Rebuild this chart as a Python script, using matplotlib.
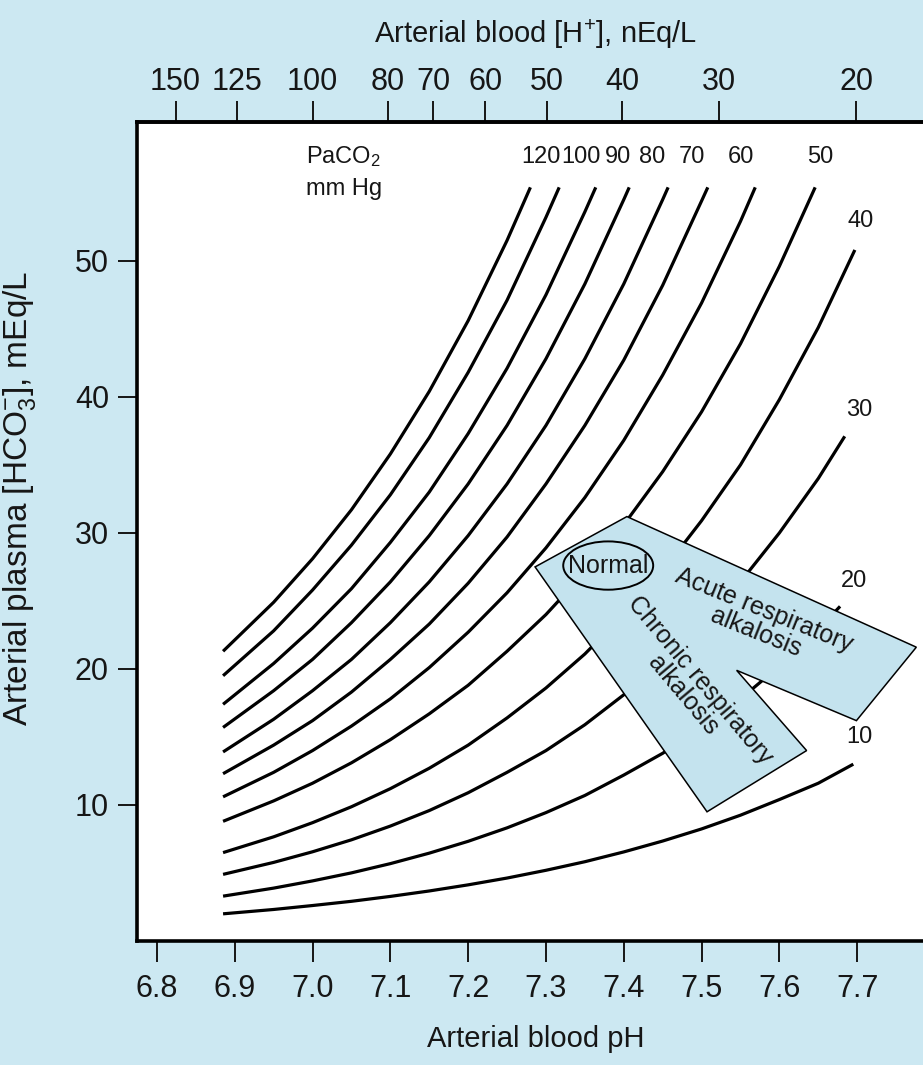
import numpy as np
import matplotlib
matplotlib.use("Agg")
import matplotlib.pyplot as plt
from matplotlib import font_manager
from matplotlib.patches import Polygon, Ellipse

# ================= DATA =================

ph_grid = [6.885, 6.95, 7.00, 7.05, 7.10, 7.15, 7.20, 7.25,
           7.30, 7.35, 7.40, 7.45, 7.50, 7.55, 7.60, 7.65]

paco2_levels = [120, 110, 100, 90, 80, 70, 60, 50, 40, 30, 20, 10]

# HCO3- (mEq/L) of each isobar at the pH grid points above
hco3_curves = [
    [21.3, 24.9, 28.1, 31.7, 35.8, 40.4, 45.6, 51.5],
    [19.5, 22.8, 25.8, 29.1, 32.8, 37.0, 41.8, 47.1, 53.2],
    [17.4, 20.4, 23.0, 25.9, 29.3, 33.0, 37.3, 42.1, 47.5, 53.6],
    [15.7, 18.4, 20.7, 23.4, 26.4, 29.8, 33.6, 37.9, 42.8, 48.3, 54.5],
    [13.9, 16.3, 18.4, 20.7, 23.4, 26.4, 29.8, 33.6, 37.9, 42.8, 48.3, 54.5],
    [12.3, 14.4, 16.2, 18.3, 20.7, 23.3, 26.3, 29.7, 33.6, 37.9, 42.7, 48.2, 54.4],
    [10.6, 12.4, 14.0, 15.8, 17.8, 20.1, 22.7, 25.6, 28.9, 32.6, 36.8, 41.6, 46.9, 52.9],
    [8.8, 10.3, 11.6, 13.1, 14.8, 16.7, 18.8, 21.3, 24.0, 27.1, 30.6, 34.5, 38.9, 43.9, 49.6],
    [6.5, 7.66, 8.70, 9.87, 11.2, 12.7, 14.4, 16.4, 18.6, 21.1, 24.0, 27.2, 30.9, 35.0, 39.8, 45.1],
    [4.9, 5.78, 6.56, 7.44, 8.45, 9.59, 10.9, 12.4, 14.0, 15.9, 18.1, 20.5, 23.3, 26.4, 30.0, 34.0],
    [3.3, 3.89, 4.42, 5.01, 5.69, 6.46, 7.33, 8.32, 9.44, 10.7, 12.2, 13.8, 15.7, 17.8, 20.2, 22.9],
    [2.0, 2.32, 2.61, 2.92, 3.28, 3.68, 4.13, 4.63, 5.20, 5.83, 6.55, 7.35, 8.24, 9.25, 10.4, 11.6],
]

# last point of each isobar
ph_end = [7.280, 7.317, 7.364, 7.407, 7.457, 7.508, 7.569, 7.646,
          7.697, 7.684, 7.678, 7.695]
hco3_end = [55.4, 55.4, 55.4, 55.4, 55.4, 55.4, 55.4, 55.4,
            50.8, 37.1, 24.6, 13.0]

# isobar labels (110 has none in the original)
top_labels = ["120", "100", "90", "80", "70", "60", "50"]
side_labels = ["40", "30", "20", "10"]

ph_ticks = [6.8, 6.9, 7.0, 7.1, 7.2, 7.3, 7.4, 7.5, 7.6, 7.7]
hco3_ticks = [10, 20, 30, 40, 50]
h_ticks = [150, 125, 100, 80, 70, 60, 50, 40, 30, 20]

# respiratory alkalosis band (pH, HCO3)
band = [(7.286, 27.5), (7.404, 31.2), (7.776, 21.6), (7.699, 16.2),
        (7.545, 19.9), (7.635, 14.0), (7.507, 9.5)]
normal_point = (7.380, 27.6)

# ================= STYLE =================

bg = "#cce8f2"
band_color = "#c4e3ee"
ink = "#161616"

plt.rcParams["font.family"] = ["Liberation Sans", "DejaVu Sans"]
plt.rcParams["mathtext.fontset"] = "custom"
plt.rcParams["mathtext.rm"] = "Liberation Sans"
plt.rcParams["mathtext.it"] = "Liberation Sans:italic"
plt.rcParams["mathtext.bf"] = "Liberation Sans:bold"

# the in-plot labels are set in a narrow face in the original
installed = {f.name for f in font_manager.fontManager.ttflist}
if "Liberation Sans Narrow" in installed:
    narrow = dict(family=["Liberation Sans Narrow", "DejaVu Sans"])
    lab_size = 20
else:
    narrow = dict(family=["Liberation Sans", "DejaVu Sans"])
    lab_size = 17

fig = plt.figure(figsize=(9.23, 10.65), dpi=100, facecolor=bg)
ax = fig.add_axes([0.1481, 0.1164, 0.8649, 0.769])
ax.set_facecolor("white")

# ================= ISOBARS =================

for vals, pe, he in zip(hco3_curves, ph_end, hco3_end):
    x = ph_grid[:len(vals)] + [pe]
    y = vals + [he]
    ax.plot(x, y, color="black", lw=2.3, solid_capstyle="butt", zorder=2)

top_label_x = [7.294, 7.345, 7.393, 7.436, 7.487, 7.551, 7.652]
for lab, px in zip(top_labels, top_label_x):
    ax.text(px, 57.6, lab, ha="center", va="center", fontsize=lab_size,
            color=ink, **narrow)

side_label_x = [7.705, 7.703, 7.696, 7.703]
side_label_y = [52.9, 39.0, 26.5, 15.0]
for lab, px, py in zip(side_labels, side_label_x, side_label_y):
    ax.text(px, py, lab, ha="center", va="center", fontsize=lab_size,
            color=ink, zorder=4, **narrow)

ax.text(6.991, 57.7, "PaCO$_2$", ha="left", va="center", fontsize=lab_size,
        color=ink, **narrow)
ax.text(6.991, 55.3, "mm Hg", ha="left", va="center", fontsize=lab_size,
        color=ink, **narrow)

# ================= ALKALOSIS BAND =================

ax.add_patch(Polygon(band, closed=True, facecolor=band_color,
                     edgecolor="black", lw=1.1, zorder=3))
ax.add_patch(Ellipse(normal_point, 0.1156, 3.55, facecolor="none",
                     edgecolor="black", lw=1.4, zorder=4))
ax.text(normal_point[0], normal_point[1], "Normal", ha="center",
        va="center", fontsize=lab_size + 1, color=ink, zorder=5, **narrow)
ax.text(7.575, 23.5, "Acute respiratory\nalkalosis", ha="center",
        va="center", rotation=-22, rotation_mode="anchor",
        fontsize=lab_size + 1, linespacing=0.95, color=ink, zorder=5,
        **narrow)
ax.text(7.487, 18.6, "Chronic respiratory\nalkalosis", ha="center",
        va="center", rotation=-50, rotation_mode="anchor",
        fontsize=lab_size + 1, linespacing=0.95, color=ink, zorder=5,
        **narrow)

# ================= AXES =================

ax.set_xlim(6.774, 7.8)
ax.set_ylim(0, 60.2)
ax.set_xticks(ph_ticks)
ax.set_xticklabels([f"{v:.1f}" for v in ph_ticks])
ax.set_yticks(hco3_ticks)
ax.tick_params(axis="x", direction="out", length=15, width=1.4,
               labelsize=22, pad=9, colors=ink)
ax.tick_params(axis="y", direction="out", length=14, width=1.4,
               labelsize=22, pad=6, colors=ink)

for side in ["top", "bottom", "left"]:
    ax.spines[side].set_linewidth(2.6)
ax.spines["right"].set_visible(False)

secax = ax.secondary_xaxis("top", functions=(lambda p: 10 ** (9 - p),
                                             lambda h: 9 - np.log10(h)))
secax.set_xticks(h_ticks)
secax.set_xticklabels([str(v) for v in h_ticks])
secax.tick_params(direction="out", length=15, width=1.4, labelsize=22,
                  pad=3, colors=ink)
secax.spines["top"].set_linewidth(2.6)
secax.set_xlabel("Arterial blood [H$^{\\mathrm{+}}$], nEq/L", fontsize=21,
                 labelpad=17, color=ink)

ax.set_xlabel("Arterial blood pH", fontsize=21, labelpad=15, color=ink)
ax.set_ylabel("Arterial plasma [HCO$_{3}^{-}$], mEq/L", fontsize=24,
              color=ink)
ax.yaxis.set_label_coords(-0.124, 0.54)

fig.savefig("out.png", dpi=100, facecolor=bg)
